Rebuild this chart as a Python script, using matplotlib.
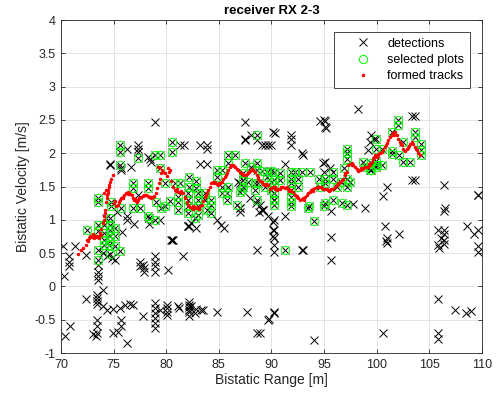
import matplotlib
matplotlib.use("Agg")
import matplotlib.pyplot as plt

plt.rcParams['font.family'] = ['Liberation Sans', 'DejaVu Sans']
plt.rcParams['axes.unicode_minus'] = False

# selected plots (green circles) - every one also is a detection
sel_x = [72.44, 73.5, 73.5, 73.55, 73.5, 74.1, 74.1, 74.05, 74.1, 74.6, 74.65,
         74.7, 74.7, 74.7, 74.7, 74.7, 75.1, 75.1, 75.1, 75.6, 73.5, 73.5,
         74.75, 74.75, 75.7, 76.8, 76.8, 76.8, 77.5, 78.3, 78.3, 79.0, 79.5,
         78.4, 78.9, 78.3, 75.65, 75.65, 75.65, 77.35, 78.9, 79.45, 79.45,
         80.58, 80.58, 80.8, 81.3, 79.9, 79.9, 80.36, 81.15, 81.15, 81.15,
         82.2, 82.8, 82.2, 82.8, 82.1, 83.0, 82.1, 83.0, 82.1, 83.0, 82.1,
         83.0, 82.73, 83.7, 83.7, 84.3, 84.3, 83.85, 84.3,
         84.8, 84.8, 85.27, 85.3, 85.3, 85.8, 85.8, 85.9, 85.9, 86.5, 85.9,
         86.7, 87.0, 87.5, 88.1, 88.6, 88.6, 87.3, 87.3, 87.8, 87.3, 87.2,
         88.4, 88.75, 88.4, 88.6, 88.6, 89.1, 89.6, 90.0, 89.6, 90.0, 89.4,
         90.0, 90.2, 90.24, 90.24, 90.24, 90.24, 90.24, 90.24,
         91.82, 91.82, 91.82, 91.82, 91.82, 91.82, 91.82, 90.8, 90.8,
         92.2, 92.5, 92.9, 93.7, 92.5, 94.5, 95.1, 95.1, 94.6, 95.8, 95.8,
         96.2, 96.6, 96.9, 97.2, 97.5, 97.2, 97.2, 97.2, 97.2, 95.8, 95.1,
         96.7, 97.2, 93.6, 95.0, 98.7, 99.0, 99.5, 99.4, 100.0, 91.3, 94.07,
         93.5, 102.05, 102.05, 101.5, 99.93, 102.5, 103.63, 103.63, 104.2,
         104.2, 104.2, 99.9, 100.5, 101.5, 101.5, 102.1, 102.5, 103.2, 99.9,
         99.9, 100.5, 99.5]
sel_y = [0.85, 0.92, 0.83, 0.55, 0.40, 0.92, 0.80, 0.70, 0.62, 0.62, 0.49,
         1.02, 0.92, 0.85, 0.75, 0.68, 0.88, 0.75, 0.60, 0.53, 1.33, 1.27,
         1.27, 1.20, 1.18, 1.55, 1.48, 1.18, 1.18, 1.55, 1.48, 1.27, 1.18,
         1.02, 0.99, 1.05, 2.12, 2.02, 1.82, 1.93, 1.97, 1.97, 1.78,
         2.17, 2.02, 1.55, 1.55, 1.55, 1.20, 1.28, 1.35, 1.27, 1.15,
         1.65, 1.58, 1.50, 1.48, 1.40, 1.40, 1.30, 1.30, 1.20, 1.20, 1.10,
         1.07, 1.02, 1.40, 1.30, 1.30, 1.22, 1.15, 1.10,
         1.75, 1.65, 1.75, 1.50, 1.40, 1.40, 1.30, 1.50, 1.97, 1.97, 1.85,
         1.22, 1.42, 1.85, 1.80, 1.75, 1.85, 1.70, 1.60, 1.57, 1.50, 1.45,
         1.55, 1.55, 1.45, 1.29, 2.27, 1.73, 1.72, 1.73, 1.65, 1.57, 1.50,
         1.45, 1.30, 1.72, 1.60, 1.52, 1.40, 1.30, 1.22,
         1.72, 1.62, 1.55, 1.45, 1.35, 1.27, 1.20, 1.70, 1.60,
         1.72, 1.62, 1.72, 1.72, 1.50, 1.62, 1.62, 1.55, 1.50, 1.72, 1.62,
         1.50, 1.57, 1.78, 1.62, 1.57, 1.50, 2.07, 2.00, 1.92, 1.30, 1.25,
         1.25, 1.22, 1.20, 1.20, 1.87, 1.80, 1.85, 1.75, 1.82, 0.54, 0.98,
         1.17, 2.50, 2.42, 2.32, 2.22, 2.17, 2.32, 2.25, 2.14,
         2.05, 1.97, 2.07, 2.07, 2.04, 1.99, 1.98, 1.87, 1.87, 1.88,
         1.80, 1.82, 1.75]

# detections that were not selected (black crosses only)
other_x = [78.93, 74.66, 74.7, 75.67, 75.67, 76.24, 77.35, 77.35, 77.35, 76.7,
           78.3, 78.45, 78.6, 81.3, 81.7, 83.2, 83.85, 83.85, 83.2, 83.85,
           87.48, 87.5, 88.1, 89.07, 89.7, 90.33, 91.82, 91.82, 91.82, 92.96,
           91.3, 94.6, 95.1, 95.1, 98.25, 99.5, 99.4, 99.2, 95.08, 103.32,
           103.63, 103.32, 103.63, 100.94, 100.56, 106.42, 109.65, 106.42,
           95.62, 95.62, 95.62, 97.75, 98.9, 89.2, 89.7, 90.24, 91.3,
           90.24, 90.24, 90.24, 90.24, 92.96, 100.8, 100.95, 100.95, 100.85,
           102.14, 105.8, 105.8, 106.1, 106.4, 106.4, 106.4, 106.4, 105.95,
           108.6, 109.2, 109.65, 109.65, 109.65, 105.85, 107.4, 108.5, 109.0,
           105.85, 105.85, 100.56, 94.07, 89.8, 90.24, 88.9,
           80.58, 81.62, 80.13, 82.16, 88.6, 90.17, 90.17, 90.17,
           92.93, 80.04, 80.04, 81.15, 82.16, 82.16, 82.16, 82.16, 82.73, 83.3,
           84.8, 87.64, 89.7, 90.27, 88.6,
           70.16, 71.33, 70.8, 70.8, 70.8, 70.3, 72.38, 73.55, 73.55, 73.55,
           73.55, 74.0, 74.4, 74.85, 75.1, 76.24, 76.9, 78.4, 79.4, 75.8,
           80.67, 77.5, 77.75, 77.9, 77.5, 77.85, 78.93, 78.93, 78.93, 78.93,
           73.39, 73.39, 73.39, 73.39, 72.38, 74.02, 74.0, 74.35, 74.95, 75.6,
           76.1, 76.6, 76.8, 75.7, 75.7, 75.4, 74.95, 73.45, 73.45, 73.45,
           73.0, 73.3, 76.24, 77.82, 78.93, 78.93, 78.93, 78.93, 78.93, 78.93,
           79.4, 80.05, 80.05, 81.2, 82.2, 82.2, 82.35, 82.8, 83.45,
           70.4, 70.9, 88.8, 89.2, 87.0, 84.8, 82.1, 82.4, 80.5,
           87.5, 88.6, 89.4, 90.0, 86.85, 87.0, 88.0, 88.5, 88.9, 89.1,
           87.0, 87.0, 82.8, 82.1, 85.5, 85.2, 90.17, 92.87, 95.0, 95.2,
           94.9, 95.6, 95.0, 99.7, 106.5, 109.65, 74.3, 75.3, 76.3, 77.3]
other_y = [2.47, 1.84, 1.82, 1.78, 1.75, 2.07, 2.12, 2.07, 2.02, 1.79,
           1.95, 1.91, 1.87, 2.13, 2.12, 2.13, 2.13, 2.06, 1.84, 1.84,
           2.47, 2.22, 2.27, 2.12, 2.12, 2.31, 2.27, 2.22, 2.12, 1.97,
           1.84, 2.49, 2.49, 2.40, 2.66, 2.27, 2.17, 2.05, 1.87, 2.56,
           2.56, 1.60, 1.60, 1.50, 1.36, 1.53, 1.38, 1.13,
           1.13, 0.74, 0.39, 1.24, 1.18, 1.14, 1.06, 0.99, 1.06,
           0.85, 0.72, 0.62, 0.52, 0.54, 0.90, 0.72, 0.65, 0.68,
           0.79, 0.85, 0.62, 0.72, 0.85, 0.78, 0.70, 0.63, 0.58,
           0.90, 0.79, 0.85, 0.60, 0.52, -0.19, -0.36, -0.40, -0.37,
           -0.70, -0.79, -0.70, -0.80, -0.49, -0.40, -0.70,
           0.70, 0.45, 0.25, 0.90, 0.54, 0.97, 0.85, 0.75,
           0.54, -0.33, -0.43, -0.29, -0.24, -0.31, -0.38, -0.45, -0.40, -0.35,
           -0.39, -0.39, -0.50, -0.39, -0.70,
           0.60, 0.60, 0.45, 0.37, 0.30, 0.15, 0.47, 0.32, 0.22, 0.15,
           0.10, 0.50, 0.45, 0.43, 0.40, 1.00, 0.93, 0.93, 0.99, 0.82,
           0.70, 0.37, 0.32, 0.27, 0.30, 0.22, 0.45, 0.37, 0.30, 0.22,
           -0.13, -0.18, -0.22, -0.26, -0.19, -0.06, -0.30, -0.35, -0.34, -0.32,
           -0.28, -0.26, -0.28, -0.50, -0.60, -0.68, -0.70, -0.50, -0.60, -0.70,
           -0.72, -0.74, -0.85, -0.44, -0.25, -0.32, -0.40, -0.48, -0.55, -0.62,
           -0.35, -0.28, -0.38, -0.33, -0.28, -0.36, -0.30, -0.34, -0.36,
           -0.75, -0.60, 1.12, 1.15, 1.17, 1.00, 0.90, 0.95, 0.70,
           2.20, 2.20, 2.12, 2.12, 1.57, 1.55, 1.32, 1.25, 1.22, 1.15,
           1.18, 1.12, 0.88, 0.90, 0.87, 0.92, 2.32, 2.00, 2.50, 2.38,
           1.85, 1.78, 1.72, 2.22, 1.18, 1.37, 1.02, 1.12, 1.05, 1.38]

# formed tracks (red dots)
trk_x = [71.6, 71.9, 72.1, 72.4, 72.6, 72.7, 72.8, 72.95, 73.1, 73.25, 73.4,
         73.5, 73.6, 73.7, 73.85, 74.0, 74.1, 74.15, 74.2, 74.3, 74.35, 74.45,
         74.5, 74.6, 74.7, 74.8, 74.9, 74.1, 74.25, 75.0, 75.2, 75.38, 75.5,
         75.64, 75.75, 75.86, 76.0, 76.18, 76.35, 76.5, 76.6, 76.71, 76.85,
         76.97, 77.1, 77.22, 77.35, 77.44, 77.6, 77.76, 77.9, 78.08, 78.25,
         78.4, 78.55, 78.71, 78.85, 79.03, 79.15, 79.3, 79.45, 79.55, 79.7,
         79.2, 79.35, 79.9, 80.1, 80.25, 80.4, 80.5, 80.65, 80.8, 80.95,
         81.1, 81.3, 81.45, 81.6, 81.78, 81.94, 82.1, 82.25, 82.42, 82.58,
         82.73, 82.9, 83.05, 83.2, 83.37, 83.52, 83.68, 83.85, 84.0, 84.15,
         84.3, 84.45, 84.63, 84.8, 84.95, 85.1, 85.27, 85.42, 85.58, 85.75,
         85.9, 86.05, 86.2, 86.35, 86.53, 86.7, 86.85, 87.0, 87.17, 87.33,
         87.48, 87.65, 87.8, 87.95, 88.12, 88.28, 88.43, 88.6, 88.75, 88.9,
         89.07, 89.22, 89.38, 89.55, 89.7, 89.86, 90.0, 90.17, 90.33, 90.49,
         90.65, 90.81, 90.95, 91.12, 91.28, 91.44, 91.6, 91.76, 91.9, 92.07,
         92.22, 92.39, 92.55, 92.71, 92.86, 93.02, 93.18, 93.34, 93.5, 93.66,
         93.8, 93.97, 94.13, 94.29, 94.45, 94.6, 94.76, 94.92, 95.08, 95.24,
         95.4, 95.56, 95.7, 95.87, 96.03, 96.19, 96.35, 96.5, 96.66, 96.82,
         96.98, 97.14, 97.3, 97.45, 97.62, 97.78, 97.93, 98.1, 98.25, 98.4,
         98.57, 98.72, 98.88, 99.04, 99.2, 99.36, 99.52, 99.67, 99.74, 99.85,
         100.0, 100.15, 100.31, 100.46, 100.62, 100.78, 100.94, 101.1, 101.26,
         101.42, 101.57, 101.73, 101.89, 102.05, 102.21, 102.36, 102.52,
         102.68, 102.9, 103.09, 103.2, 103.32, 103.47, 103.63, 103.8, 103.95,
         104.1,
         72.5, 73.0, 73.8, 74.05, 74.4, 74.55, 75.1, 75.9, 76.4, 77.0, 78.0,
         78.6, 79.6, 80.2, 81.0, 81.8, 82.5, 83.1, 83.8, 84.5, 85.0, 85.7,
         86.4, 87.1, 87.9, 88.7, 89.5, 90.3, 91.0, 91.7, 92.4, 93.1, 93.9,
         94.7, 95.5, 96.3, 97.0, 97.7, 98.5, 99.3, 100.1, 100.9, 101.6,
         102.3, 103.0, 103.7]
trk_y = [0.49, 0.55, 0.58, 0.62, 0.68, 0.72, 0.75, 0.74, 0.72, 0.76, 0.74,
         0.76, 0.73, 0.80, 0.86, 0.95, 1.05, 1.10, 1.15, 1.27, 1.33, 1.40,
         1.45, 1.50, 1.57, 1.62, 1.67, 1.40, 1.45, 1.25, 1.20, 1.22, 1.26,
         1.29, 1.32, 1.35, 1.38, 1.40, 1.42, 1.41, 1.39, 1.37, 1.33,
         1.30, 1.28, 1.27, 1.30, 1.32, 1.34, 1.36, 1.37, 1.37, 1.36,
         1.35, 1.34, 1.34, 1.36, 1.40, 1.48, 1.55, 1.62, 1.70, 1.72,
         1.80, 1.79, 1.70, 1.66, 1.72, 1.75, 1.58, 1.50, 1.45, 1.43,
         1.42, 1.41, 1.43, 1.40, 1.32, 1.27, 1.22, 1.19, 1.17, 1.16,
         1.19, 1.18, 1.17, 1.20, 1.22, 1.28, 1.35, 1.40, 1.45, 1.50,
         1.55, 1.57, 1.57, 1.54, 1.52, 1.55, 1.57, 1.61, 1.65, 1.70,
         1.75, 1.79, 1.82, 1.83, 1.80, 1.77, 1.75, 1.72, 1.70, 1.68,
         1.67, 1.69, 1.71, 1.74, 1.76, 1.75, 1.72, 1.67, 1.62, 1.59,
         1.57, 1.54, 1.52, 1.53, 1.52, 1.47, 1.48, 1.49, 1.47, 1.45,
         1.46, 1.47, 1.49, 1.50, 1.48, 1.49, 1.47, 1.45, 1.43, 1.42,
         1.38, 1.35, 1.32, 1.30, 1.31, 1.32, 1.35, 1.37, 1.40, 1.42,
         1.45, 1.47, 1.48, 1.49, 1.50, 1.49, 1.48, 1.47, 1.46, 1.46,
         1.45, 1.45, 1.46, 1.47, 1.50, 1.52, 1.55, 1.57, 1.60, 1.62,
         1.67, 1.72, 1.82, 1.84, 1.85, 1.82, 1.80, 1.77, 1.74, 1.75,
         1.76, 1.78, 1.80, 1.80, 1.80, 1.83, 1.87, 1.92, 1.95, 1.97,
         1.95, 1.98, 2.00, 2.02, 2.05, 2.10, 2.15, 2.20, 2.25,
         2.28, 2.30, 2.32, 2.27, 2.22, 2.17, 2.12, 2.07,
         2.04, 2.06, 2.11, 2.14, 2.17, 2.14, 2.09, 2.05, 2.01,
         1.97,
         0.70, 0.78, 0.77, 1.00, 1.37, 1.52, 1.28, 1.33, 1.39, 1.31, 1.38,
         1.33, 1.75, 1.78, 1.46, 1.35, 1.20, 1.16, 1.38, 1.55, 1.56, 1.68,
         1.81, 1.71, 1.72, 1.65, 1.54, 1.50, 1.49, 1.44, 1.36, 1.30, 1.44,
         1.49, 1.44, 1.54, 1.70, 1.83, 1.78, 1.84, 1.99, 2.12, 2.28,
         2.14, 2.08, 2.07]

det_x = sel_x + other_x
det_y = sel_y + other_y

fig = plt.figure(figsize=(4.97, 3.97), dpi=100)
ax = fig.add_axes([0.1227, 0.1108, 0.847, 0.8388])

ax.plot(det_x, det_y, 'x', color='black', markersize=5.5, markeredgewidth=0.7,
        label='detections')
ax.plot(sel_x, sel_y, 'o', color=(0, 1, 0), markerfacecolor='none',
        markersize=6, markeredgewidth=0.7, label='selected plots')
ax.plot(trk_x, trk_y, 'o', color='red', markersize=2.5, markeredgewidth=0,
        label='formed tracks')

ax.set_xlim(70, 110)
ax.set_ylim(-1, 4)
ax.set_xticks(range(70, 111, 5))
ax.set_yticks([-1, -0.5, 0, 0.5, 1, 1.5, 2, 2.5, 3, 3.5, 4])
ax.set_yticklabels(['-1', '-0.5', '0', '0.5', '1', '1.5', '2', '2.5', '3',
                    '3.5', '4'])
ax.grid(True, color=(0.87, 0.87, 0.87), linewidth=0.6)
ax.set_axisbelow(True)
ax.tick_params(direction='in', top=True, right=True, labelsize=9,
               colors=(0.15, 0.15, 0.15), length=3, width=0.6, pad=4)
for s in ax.spines.values():
    s.set_color((0.15, 0.15, 0.15))
    s.set_linewidth(0.6)

ax.set_xlabel('Bistatic Range [m]', fontsize=10, color=(0.15, 0.15, 0.15),
              labelpad=2)
ax.set_ylabel('Bistatic Velocity [m/s]', fontsize=10,
              color=(0.15, 0.15, 0.15), labelpad=3)
ax.set_title('receiver RX 2-3', fontsize=9.5, fontweight='bold', pad=4)

leg = ax.legend(loc='upper right', bbox_to_anchor=(0.9715, 0.964),
                borderaxespad=0, fontsize=9, fancybox=False, framealpha=1,
                edgecolor=(0.15, 0.15, 0.15), handletextpad=0.1,
                borderpad=0.45, labelspacing=0.35, handlelength=3.7)
leg.get_frame().set_linewidth(0.6)

fig.savefig('out.png', dpi=100)
